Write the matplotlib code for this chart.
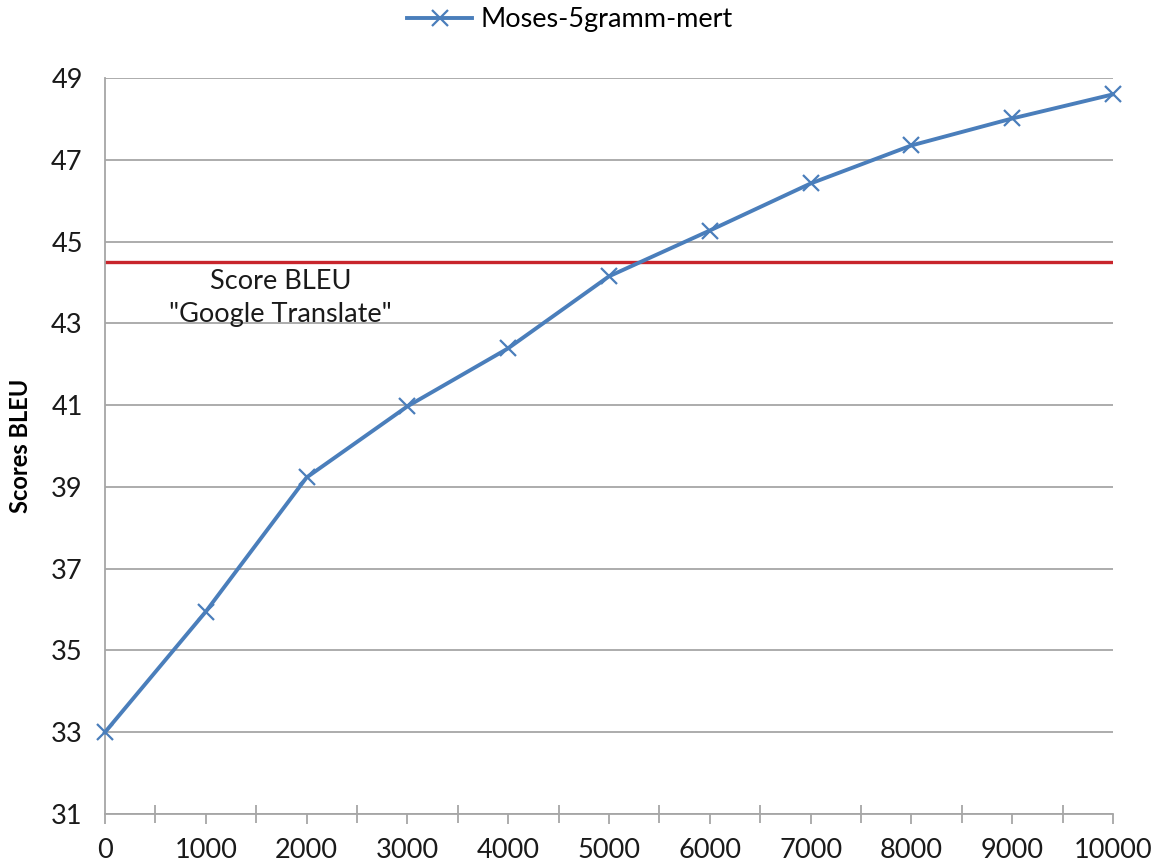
import matplotlib.pyplot as plt
from matplotlib.ticker import MultipleLocator

# data
phrases = [0, 1000, 2000, 3000, 4000, 5000, 6000, 7000, 8000, 9000, 10000]
bleu = [33.0, 35.95, 39.23, 40.97, 42.39, 44.15, 45.27, 46.42, 47.35, 48.01, 48.6]
google_score = 44.5
y_ticks = list(range(31, 50, 2))
series_name = 'Moses-5gramm-mert'
google_label = 'Score BLEU\n"Google Translate"'

plt.rcParams['font.family'] = ['Lato', 'DejaVu Sans']

fig = plt.figure(figsize=(11.58, 8.66), dpi=100)
ax = fig.add_axes([105 / 1158, 1 - 814 / 866, 1008 / 1158, 736 / 866])

blue = '#4A7EBB'
grid_c = '#A6A6A6'

ax.axhline(google_score, color='#C8252C', lw=2.4, zorder=2)
ax.plot(phrases, bleu, color=blue, lw=2.8, marker='x', markersize=12,
        markeredgewidth=1.6, label=series_name, zorder=3, clip_on=False)

ax.set_xlim(0, 10000)
ax.set_ylim(31, 49)
ax.xaxis.set_major_locator(MultipleLocator(1000))
ax.xaxis.set_minor_locator(MultipleLocator(500))
ax.set_yticks(y_ticks)

ax.grid(axis='y', color=grid_c, lw=1.3)
ax.set_axisbelow(True)
for s in ['top', 'right']:
    ax.spines[s].set_visible(False)
for s in ['left', 'bottom']:
    ax.spines[s].set_color(grid_c)
    ax.spines[s].set_linewidth(1.3)

ax.tick_params(axis='x', which='major', direction='out', length=7, width=1.3,
               color=grid_c, labelsize=19.5, pad=10, labelcolor='#1a1a1a')
ax.tick_params(axis='x', which='minor', direction='inout', length=13, width=1.3,
               color=grid_c)
ax.tick_params(axis='y', length=0, labelsize=19.5, pad=16, labelcolor='#1a1a1a')

ax.set_ylabel('Scores BLEU', fontsize=17, fontweight='bold', labelpad=14)

ax.text(1740, 43.63, google_label, ha='center', va='center', fontsize=19.5,
        color='#1a1a1a', linespacing=1.4)

fig.legend(loc='center', bbox_to_anchor=(570 / 1158, 1 - 20 / 866), frameon=False,
           fontsize=19.5, handlelength=2.4, handletextpad=0.3)

fig.savefig('out.png', dpi=100)
